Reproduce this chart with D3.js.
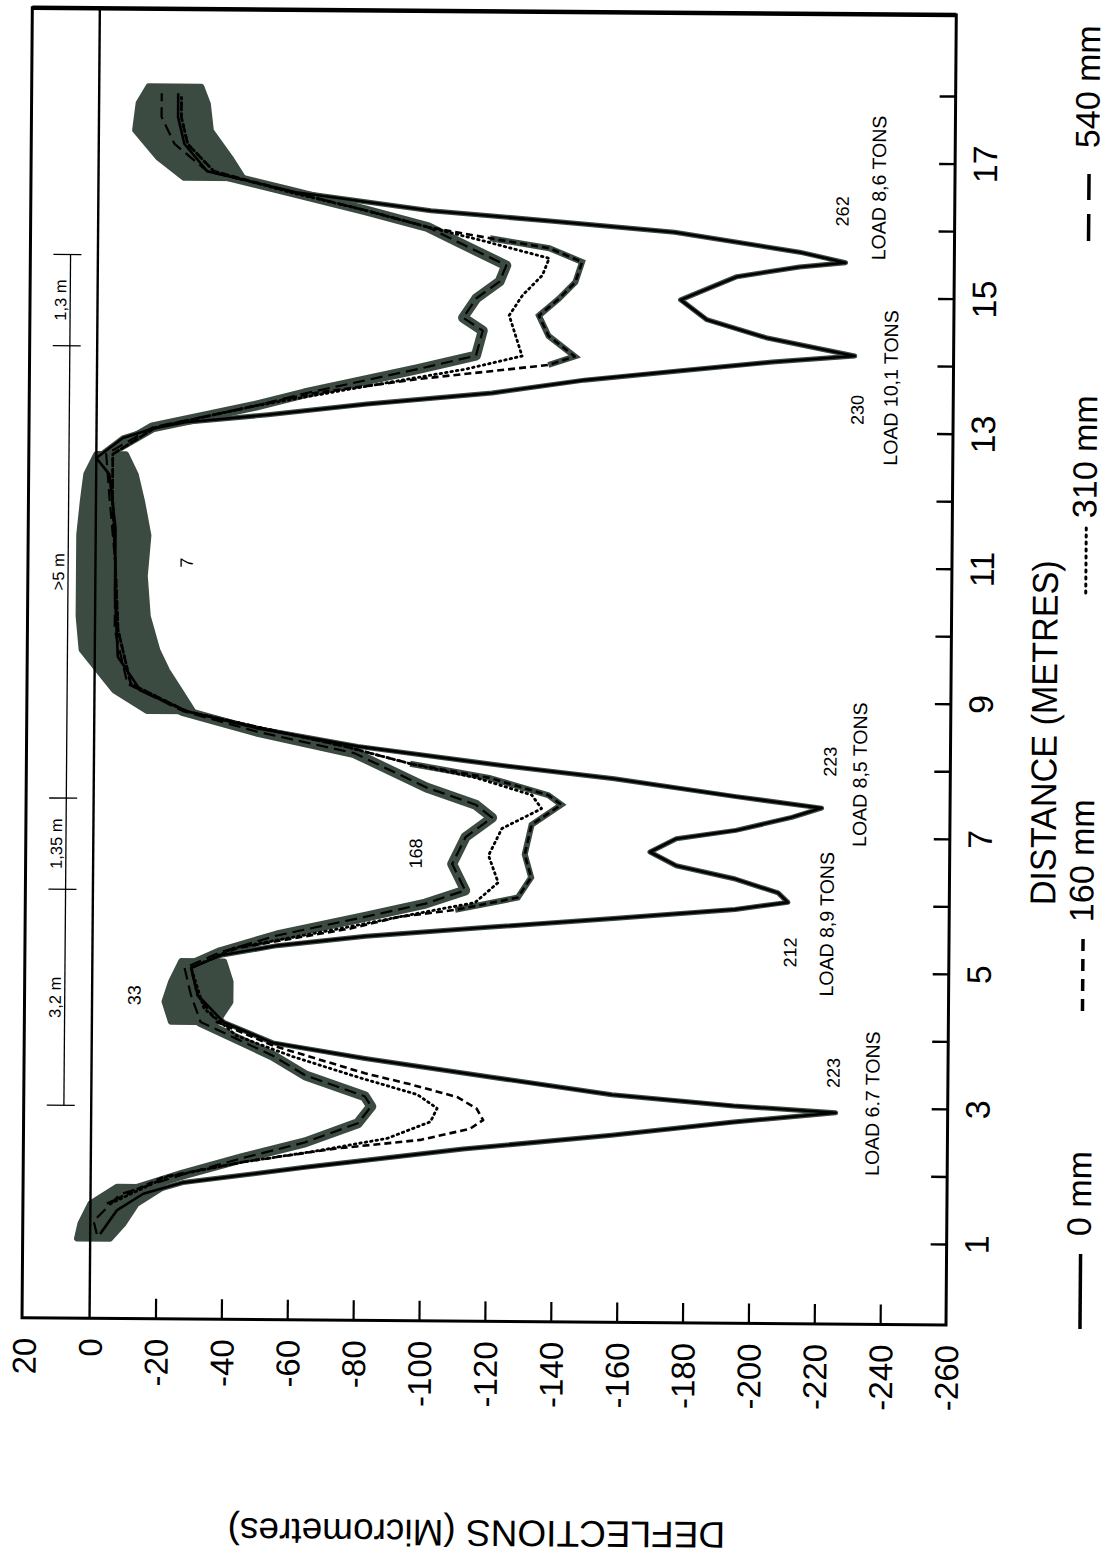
<!DOCTYPE html>
<html>
<head>
<meta charset="utf-8">
<title>Deflections vs distance</title>
<script src="https://cdn.jsdelivr.net/npm/d3@7"></script>
<style>
body { margin: 0; background: #fff; }
svg { display: block; font-family: "Liberation Sans", Arial, Helvetica, sans-serif; }
</style>
</head>
<body>
<svg id="chart" width="1111" height="1556"></svg>
<script>
// distance (m) , deflection (micrometres)
const s0mm = [[1.05,-3],[1.4,-8],[1.65,-16],[1.82,-28],[2.06,-65],[2.35,-113],[2.57,-158],[2.78,-195],[2.93,-226],[3.02,-195],[3.17,-158],[3.42,-121],[3.68,-83],[3.9,-55],[4.2,-40],[4.6,-32],[5.0,-30],[5.19,-39],[5.34,-56],[5.49,-83],[5.64,-121],[5.78,-158],[5.93,-195],[6.04,-211],[6.18,-208],[6.38,-195],[6.57,-177],[6.77,-169],[6.97,-177],[7.1,-195],[7.3,-212],[7.44,-221],[7.6,-195],[7.85,-158],[8.05,-121],[8.3,-80],[8.55,-50],[8.8,-28],[9.1,-14],[9.6,-7],[10.5,-6],[11.5,-6],[12.3,-4],[12.54,0],[12.84,-8],[12.98,-17],[13.08,-27],[13.2,-52],[13.37,-82],[13.55,-120],[13.75,-148],[13.89,-175],[14.04,-205],[14.14,-230],[14.4,-203],[14.66,-185],[14.95,-177],[15.3,-194],[15.45,-213],[15.52,-227],[15.67,-213],[15.95,-175],[16.1,-138],[16.24,-101],[16.5,-60],[16.8,-33],[17.2,-26],[17.6,-24],[17.95,-24]];
const s160mm = [[1.5,-5],[1.9,-22],[2.13,-46],[2.34,-74],[2.48,-100],[2.65,-115],[2.78,-119],[2.95,-117],[3.12,-111],[3.3,-97],[3.46,-83],[3.86,-55],[4.2,-38],[4.6,-32],[5.0,-30],[5.3,-44],[5.6,-78],[5.78,-93],[5.89,-110],[6.08,-129],[6.38,-133],[6.72,-131],[7.16,-133],[7.46,-142],[7.6,-138],[7.85,-120],[8.05,-96],[8.3,-76],[8.8,-28],[9.2,-11],[10,-7],[11,-6],[12,-5],[12.6,-5],[13.0,-18],[13.33,-48],[13.52,-65],[13.75,-98],[13.97,-137],[14.1,-145],[14.4,-137],[14.7,-134],[14.95,-140],[15.2,-145],[15.5,-147],[15.7,-137],[15.84,-119],[16.0,-100],[16.24,-81],[16.5,-59],[16.8,-35],[17.2,-27],[17.6,-25],[17.9,-25]];
const s310mm = [[1.5,-6],[1.9,-23],[2.13,-46],[2.3,-68],[2.5,-90],[2.75,-103],[2.95,-105],[3.15,-99],[3.4,-81],[3.7,-61],[4.0,-44],[4.4,-34],[5.0,-30],[5.3,-43],[5.6,-75],[5.8,-95],[6.0,-116],[6.3,-123],[6.7,-120],[7.1,-124],[7.4,-136],[7.6,-133],[7.85,-116],[8.05,-96],[8.3,-76],[8.8,-28],[9.2,-11],[10,-7],[11,-6],[12,-5],[12.6,-5],[13.0,-18],[13.33,-48],[13.6,-78],[13.9,-112],[14.1,-129],[14.4,-127],[14.7,-125],[15.0,-129],[15.3,-135],[15.55,-137],[15.8,-117],[16.0,-100],[16.24,-81],[16.5,-58],[16.8,-35],[17.2,-27],[17.6,-25],[17.9,-25]];
const s540mm = [[1.05,-2],[1.24,-1],[1.64,-9],[1.94,-28],[2.19,-46],[2.43,-65],[2.72,-81],[2.97,-85],[3.12,-83],[3.42,-65],[3.71,-55],[4.2,-33],[4.6,-30],[5.0,-28],[5.24,-39],[5.49,-56],[5.78,-83],[5.98,-101],[6.18,-113],[6.57,-109],[6.97,-113],[7.26,-121],[7.45,-116],[7.7,-101],[8.2,-79],[8.5,-50],[8.8,-27],[9.2,-10],[10,-6],[11,-6],[12,-4],[12.6,-3],[13.0,-17],[13.33,-48],[13.52,-63],[13.89,-97],[14.1,-115],[14.47,-117],[14.66,-111],[14.95,-115],[15.2,-122],[15.44,-124],[15.74,-111],[16.0,-100],[16.24,-81],[16.5,-59],[16.8,-33],[17.2,-23],[17.6,-19],[17.95,-19]];

// scatter of repeated readings: distance, upper, lower deflection
const blobStart = [[0.98,4,-6],[1.2,3,-10],[1.5,0,-14],[1.75,-8,-22]];
const blobValley = [[4.2,-24,-38],[4.5,-22,-42],[4.8,-24,-42],[5.1,-27,-40]];
const blobFlat = [[8.8,-16,-30],[9.1,-6,-26],[9.4,-1,-22],[9.7,4,-19],[10.2,5,-16],[10.8,5,-15],[11.4,5,-16],[11.9,4,-14],[12.3,3,-12],[12.6,0,-9]];
const blobEnd = [[16.7,-26,-44],[17.0,-18,-40],[17.4,-11,-34],[17.8,-12,-33],[18.05,-15,-31]];

const distTicks = d3.range(1, 19);
const defTicks = [20,0,-20,-40,-60,-80,-100,-120,-140,-160,-180,-200,-220,-240,-260];

// axle spacing marks
const axleMarks = [2.95, 6.15, 7.5, 14.2, 15.55];
const axleLabels = ["3,2 m", "1,35 m", ">5 m", "1,3 m"];

// [text, distance, deflection, big]
const notes = [
  ["223", 3.52, -227.1, 0], ["LOAD 6.7 TONS", 3.07, -239.2, 1],
  ["212", 5.30, -213.7, 0], ["LOAD 8,9 TONS", 5.72, -224.9, 1],
  ["223", 8.13, -225.4, 0], ["LOAD 8,5 TONS", 7.94, -234.6, 1],
  ["168", 6.72, -99.8, 0], ["33", 4.59, -14.7, 0], ["7", 11.0, -29.5, 0],
  ["230", 13.34, -232.8, 0], ["LOAD 10,1 TONS", 13.67, -243.1, 1],
  ["262", 16.28, -227.8, 0], ["LOAD 8,6 TONS", 16.63, -239.0, 1]
];

const legendNames = ["0 mm", "160 mm", "310 mm", "540 mm"];

const GRAY = "#3c4b41";
const svg = d3.select("#chart");
const g = svg.append("g").attr("transform", "rotate(0.45, 946, 1325)");

const x = d3.scaleLinear().domain([20.5, -260]).range([22, 946]);   // deflection
const y = d3.scaleLinear().domain([-0.2, 19.2]).range([1325, 15]);  // distance

const line = d3.line().x(d => x(d[1])).y(d => y(d[0]));
const area = d3.area().y(d => y(d[0])).x0(d => x(d[1])).x1(d => x(d[2]));

// grey scatter bands
[blobStart, blobValley, blobFlat, blobEnd].forEach(b => {
  g.append("path").datum(b).attr("d", area).attr("fill", GRAY)
    .attr("stroke", GRAY).attr("stroke-width", 6).attr("stroke-linejoin", "round");
});
g.append("path").datum(s540mm).attr("d", line).attr("fill", "none")
  .attr("stroke", GRAY).attr("stroke-width", 10).attr("stroke-linejoin", "round");
g.append("path").datum(s0mm).attr("d", line).attr("fill", "none")
  .attr("stroke", GRAY).attr("stroke-width", 5).attr("stroke-linejoin", "round");
g.append("path").datum(s160mm)
  .attr("d", line.defined(d => (d[0] > 5.8 && d[0] < 8.1) || (d[0] > 13.9 && d[0] < 15.9)))
  .attr("fill", "none").attr("stroke", GRAY).attr("stroke-width", 6);
line.defined(() => true);

// measured lines
const series = [
  {data: s0mm, dash: null, w: 2.6},
  {data: s160mm, dash: "7,4", w: 2.6},
  {data: s310mm, dash: "1.5,4", w: 2.8},
  {data: s540mm, dash: "12,6", w: 2.2}
];
series.forEach(s => {
  g.append("path").datum(s.data).attr("d", line).attr("fill", "none")
    .attr("stroke", "#000").attr("stroke-width", s.w)
    .attr("stroke-dasharray", s.dash).attr("stroke-linecap", s.dash === "1.5,4" ? "round" : "butt")
    .attr("stroke-linejoin", "round");
});

// frame and zero line
g.append("rect").attr("x", 22).attr("y", 15).attr("width", 924).attr("height", 1310)
  .attr("fill", "none").attr("stroke", "#000").attr("stroke-width", 3);
g.append("line").attr("x1", 22).attr("x2", 946).attr("y1", 15).attr("y2", 15)
  .attr("stroke", "#000").attr("stroke-width", 4.5);
g.append("line").attr("x1", x(0)).attr("x2", x(0)).attr("y1", 15).attr("y2", 1325)
  .attr("stroke", "#000").attr("stroke-width", 2.4);

// deflection axis (bottom in picture)
const gx = g.append("g").attr("transform", "translate(0,1325)")
  .call(d3.axisBottom(x).tickValues(defTicks).tickSizeInner(-20).tickSizeOuter(0).tickFormat(d => String(d)));
gx.attr("font-family", null).attr("font-size", null);
gx.select(".domain").remove();
gx.selectAll(".tick line").attr("stroke-width", 2.2).filter(d => d === 20 || d === -260 || d === 0).remove();
gx.selectAll(".tick text").attr("transform", "translate(0,20) rotate(-90)")
  .attr("x", 0).attr("y", 0).attr("dy", "0.36em").attr("text-anchor", "end")
  .attr("font-size", 33).attr("fill", "#000");

// distance axis (right in picture)
const gy = g.append("g").attr("transform", "translate(946,0)")
  .call(d3.axisRight(y).tickValues(distTicks).tickSizeInner(-16).tickSizeOuter(0).tickFormat(d => d % 2 ? String(d) : ""));
gy.attr("font-family", null).attr("font-size", null);
gy.select(".domain").remove();
gy.selectAll(".tick line").attr("stroke-width", 2.4);
gy.selectAll(".tick text").attr("transform", "translate(42,0) rotate(-90)")
  .attr("x", 0).attr("y", 0).attr("dy", 0).attr("text-anchor", "middle")
  .attr("font-size", 34).attr("fill", "#000");

// axis titles
g.append("text").attr("transform", "translate(1052,732) rotate(-90)")
  .attr("text-anchor", "middle").attr("font-size", 36)
  .attr("textLength", 345).attr("lengthAdjust", "spacingAndGlyphs")
  .text("DISTANCE (METRES)");
g.append("text").attr("transform", "translate(478,1524) rotate(180)")
  .attr("text-anchor", "middle").attr("font-size", 37)
  .text("DEFLECTIONS (Micrometres)");

// axle spacing dimension line
const ax = x(8.3);
g.append("line").attr("x1", ax).attr("x2", ax).attr("y1", y(axleMarks[0])).attr("y2", y(axleMarks[4]))
  .attr("stroke", "#000").attr("stroke-width", 1.3);
g.selectAll(".axle").data(axleMarks).join("line")
  .attr("x1", x(13.5)).attr("x2", x(5)).attr("y1", d => y(d)).attr("y2", d => y(d))
  .attr("stroke", "#000").attr("stroke-width", 1.3);
g.selectAll(".axleLab").data(axleLabels).join("text")
  .attr("transform", (d, i) => `translate(${x(9.5)},${y((axleMarks[i] + axleMarks[i + 1]) / 2)}) rotate(-90)`)
  .attr("text-anchor", "middle").attr("font-size", 16.5).text(d => d);

// peak notes
g.selectAll(".note").data(notes).join("text")
  .attr("transform", d => `translate(${x(d[2])},${y(d[1])}) rotate(-90)`)
  .attr("text-anchor", "middle").attr("font-size", d => d[3] ? 19.5 : 18).text(d => d[0]);

// legend
const legY = [[1328, 1253, 1235], [1010, 935, 921], [592, 527, 517], [240, 173, 147]];
const legDash = [null, "12,8", "2,5", "27,14"];
legendNames.forEach((name, i) => {
  g.append("line").attr("x1", 1080).attr("x2", 1080).attr("y1", legY[i][0]).attr("y2", legY[i][1])
    .attr("stroke", "#000").attr("stroke-width", i === 2 ? 3 : 3.5)
    .attr("stroke-dasharray", legDash[i]).attr("stroke-linecap", i === 2 ? "round" : "butt");
  g.append("text").attr("transform", `translate(1090,${legY[i][2]}) rotate(-90)`)
    .attr("text-anchor", "start").attr("font-size", 34).text(name);
});
</script>
</body>
</html>
